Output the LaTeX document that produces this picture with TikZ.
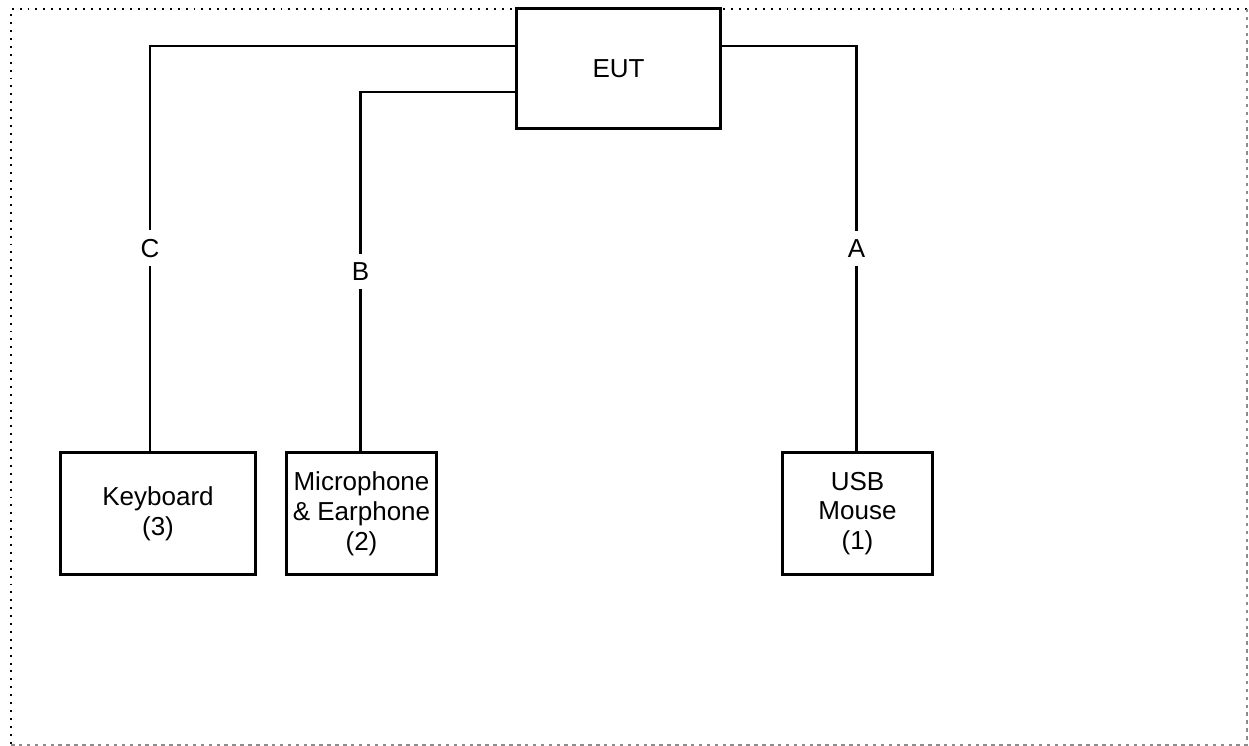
\documentclass[tikz,border=0pt]{standalone}
\usepackage{fontspec}
\setmainfont{Liberation Sans}
\usetikzlibrary{positioning}

\begin{document}
\begin{tikzpicture}[
  x=0.02cm, y=-0.02cm,
  font=\fontsize{14.8pt}{17pt}\selectfont,
  box/.style={draw, line width=1.7pt, align=center, inner sep=2pt, fill=white},
  dev/.style={box, minimum height=2.46cm},
  wire/.style={line width=1.6pt},
  lab/.style={fill=white, inner xsep=2pt, inner ysep=5pt},
  dotborder/.style={line width=1.1pt, dash pattern=on 1.1pt off 3.4pt},
  dashborder/.style={line width=1pt, draw=black!45, dash pattern=on 2pt off 2.5pt},
]
\useasboundingbox (0,0) rectangle (1249,746);

% frame round the set-up
\draw[dotborder] (1247,9) -- (11,9) -- (11,745);
\draw[dashborder] (11,745) -- (1247,745) -- (1247,9);

% unit under test and the three devices
\node[box, minimum width=4.1cm, minimum height=2.42cm] (eut) at (618.5,68.5) {EUT};
\node[dev, minimum width=3.92cm] (kbd) at (158,513.5) {Keyboard\\(3)};
\node[dev, minimum width=3.02cm] (mic) at (361.5,513.5) {Microphone\\\& Earphone\\(2)};
\node[dev, minimum width=3.02cm] (mouse) at (857.5,513.5) {USB\\Mouse\\(1)};

% cables
\draw[wire] ([yshift=0.45cm]eut.west) -| node[lab, pos=0.75] (c) {C} ([xshift=-0.16cm]kbd.north);
\draw[wire] ([yshift=-0.47cm]eut.west) -| node[lab, pos=0.75] (b) {B} ([xshift=-0.02cm]mic.north);
\draw[wire] ([yshift=0.45cm]eut.east) -| node[lab, pos=0.75] (a) {A} ([xshift=-0.02cm]mouse.north);

\end{tikzpicture}
\end{document}
